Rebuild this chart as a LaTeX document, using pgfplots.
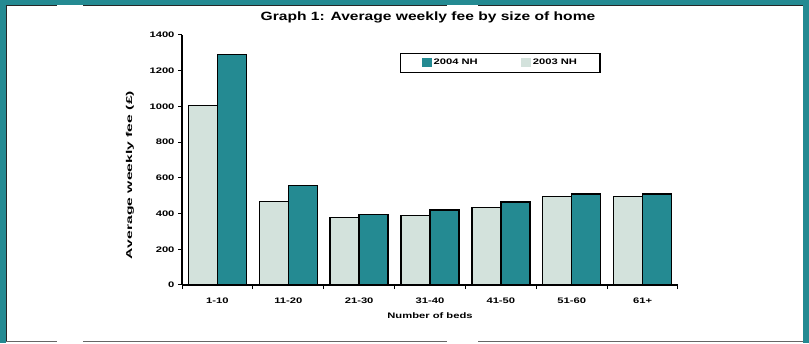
\documentclass[border=0pt]{standalone}
\usepackage{pgfplots}
\pgfplotsset{compat=1.18}
\usepackage{fontspec}
\setmainfont{Liberation Sans}
\newfontfamily\wideA[FakeStretch=1.4]{Liberation Sans}
\newfontfamily\wideT[FakeStretch=1.3]{Liberation Sans}
\newfontfamily\wideY[FakeStretch=1.85]{Liberation Sans}
\definecolor{tealc}{HTML}{248A92}
\definecolor{lightc}{HTML}{D3E2DC}
\begin{document}
\begin{tikzpicture}[x=1pt,y=1pt]
\fill[tealc] (0,0) rectangle (809,343);
\fill[white] (6,0) rectangle (803,337);
\fill[white] (57,337) rectangle (83,338);
\fill[white] (447,337) rectangle (478,338);
\draw[black!85,line width=1pt] (6,337) -- (57,337) (83,337) -- (447,337) (478,337) -- (803,337);
\draw[black!85,line width=1pt] (6.5,2) -- (6.5,337);
\draw[black!60,line width=0.8pt] (6,2) -- (57,2) (83,2) -- (447,2) (478,2) -- (803,2);
\node[font=\wideT\fontsize{12}{14}\selectfont\bfseries] at (428,326) {Graph 1: Average weekly fee by size of home};
\begin{axis}[
  at={(182pt,58pt)}, anchor=south west,
  scale only axis, width=496pt, height=250pt,
  xmin=-0.5, xmax=6.5, ymin=0, ymax=1400,
  axis x line*=bottom, axis y line*=left,
  axis line style={-, line width=1.5pt, black},
  tick align=outside,
  ytick={0,200,...,1400},
  /pgf/number format/1000 sep={},
  /pgf/number format/assume math mode=true,
  yticklabel style={font=\wideA\fontsize{8}{9}\selectfont\bfseries},
  major tick length=4pt,
  tick style={black, line width=1pt},
  xtick={0,...,6},
  xticklabels={1-10,11-20,21-30,31-40,41-50,51-60,61+},
  xticklabel style={font=\wideA\fontsize{8}{9}\selectfont\bfseries, yshift=-5pt},
  x tick style={draw=none},
  extra x ticks={-0.5,0.5,...,6.5},
  extra x tick labels={},
  extra x tick style={x tick style={draw=black, line width=1pt}, major tick length=4pt},
  xlabel={Number of beds},
  xlabel style={font=\wideA\fontsize{8}{9}\selectfont\bfseries, at={(axis description cs:0.5,-0.124)}, anchor=center},
  ylabel={Average weekly fee (£)},
  ylabel style={font=\wideY\fontsize{8.5}{10}\selectfont\bfseries, at={(axis description cs:-0.105,0.44)}, anchor=center},
  ybar=0pt, bar width=29pt,
  legend columns=2,
  legend style={at={(0.4395,0.93)}, anchor=north west, draw=black, line width=1.3pt,
    inner xsep=21pt, inner ysep=4pt,
    font=\wideA\fontsize{8}{9}\selectfont\bfseries,
    /tikz/every even column/.append style={column sep=41pt}},
  legend image code/.code={\fill[#1,draw=none] (0pt,-4pt) rectangle (10pt,5pt);},
]
\addplot[fill=tealc, draw=black, line width=1.3pt, bar shift=14.5pt] coordinates {
 (0,1290) (1,556) (2,394) (3,420) (4,465) (5,510) (6,510)};
\addlegendentry{2004 NH}
\addplot[fill=lightc, draw=black, line width=1.3pt, bar shift=-14.5pt] coordinates {
 (0,1005) (1,466) (2,377) (3,390) (4,435) (5,494) (6,494)};
\addlegendentry{2003 NH}
\end{axis}
\end{tikzpicture}
\end{document}
